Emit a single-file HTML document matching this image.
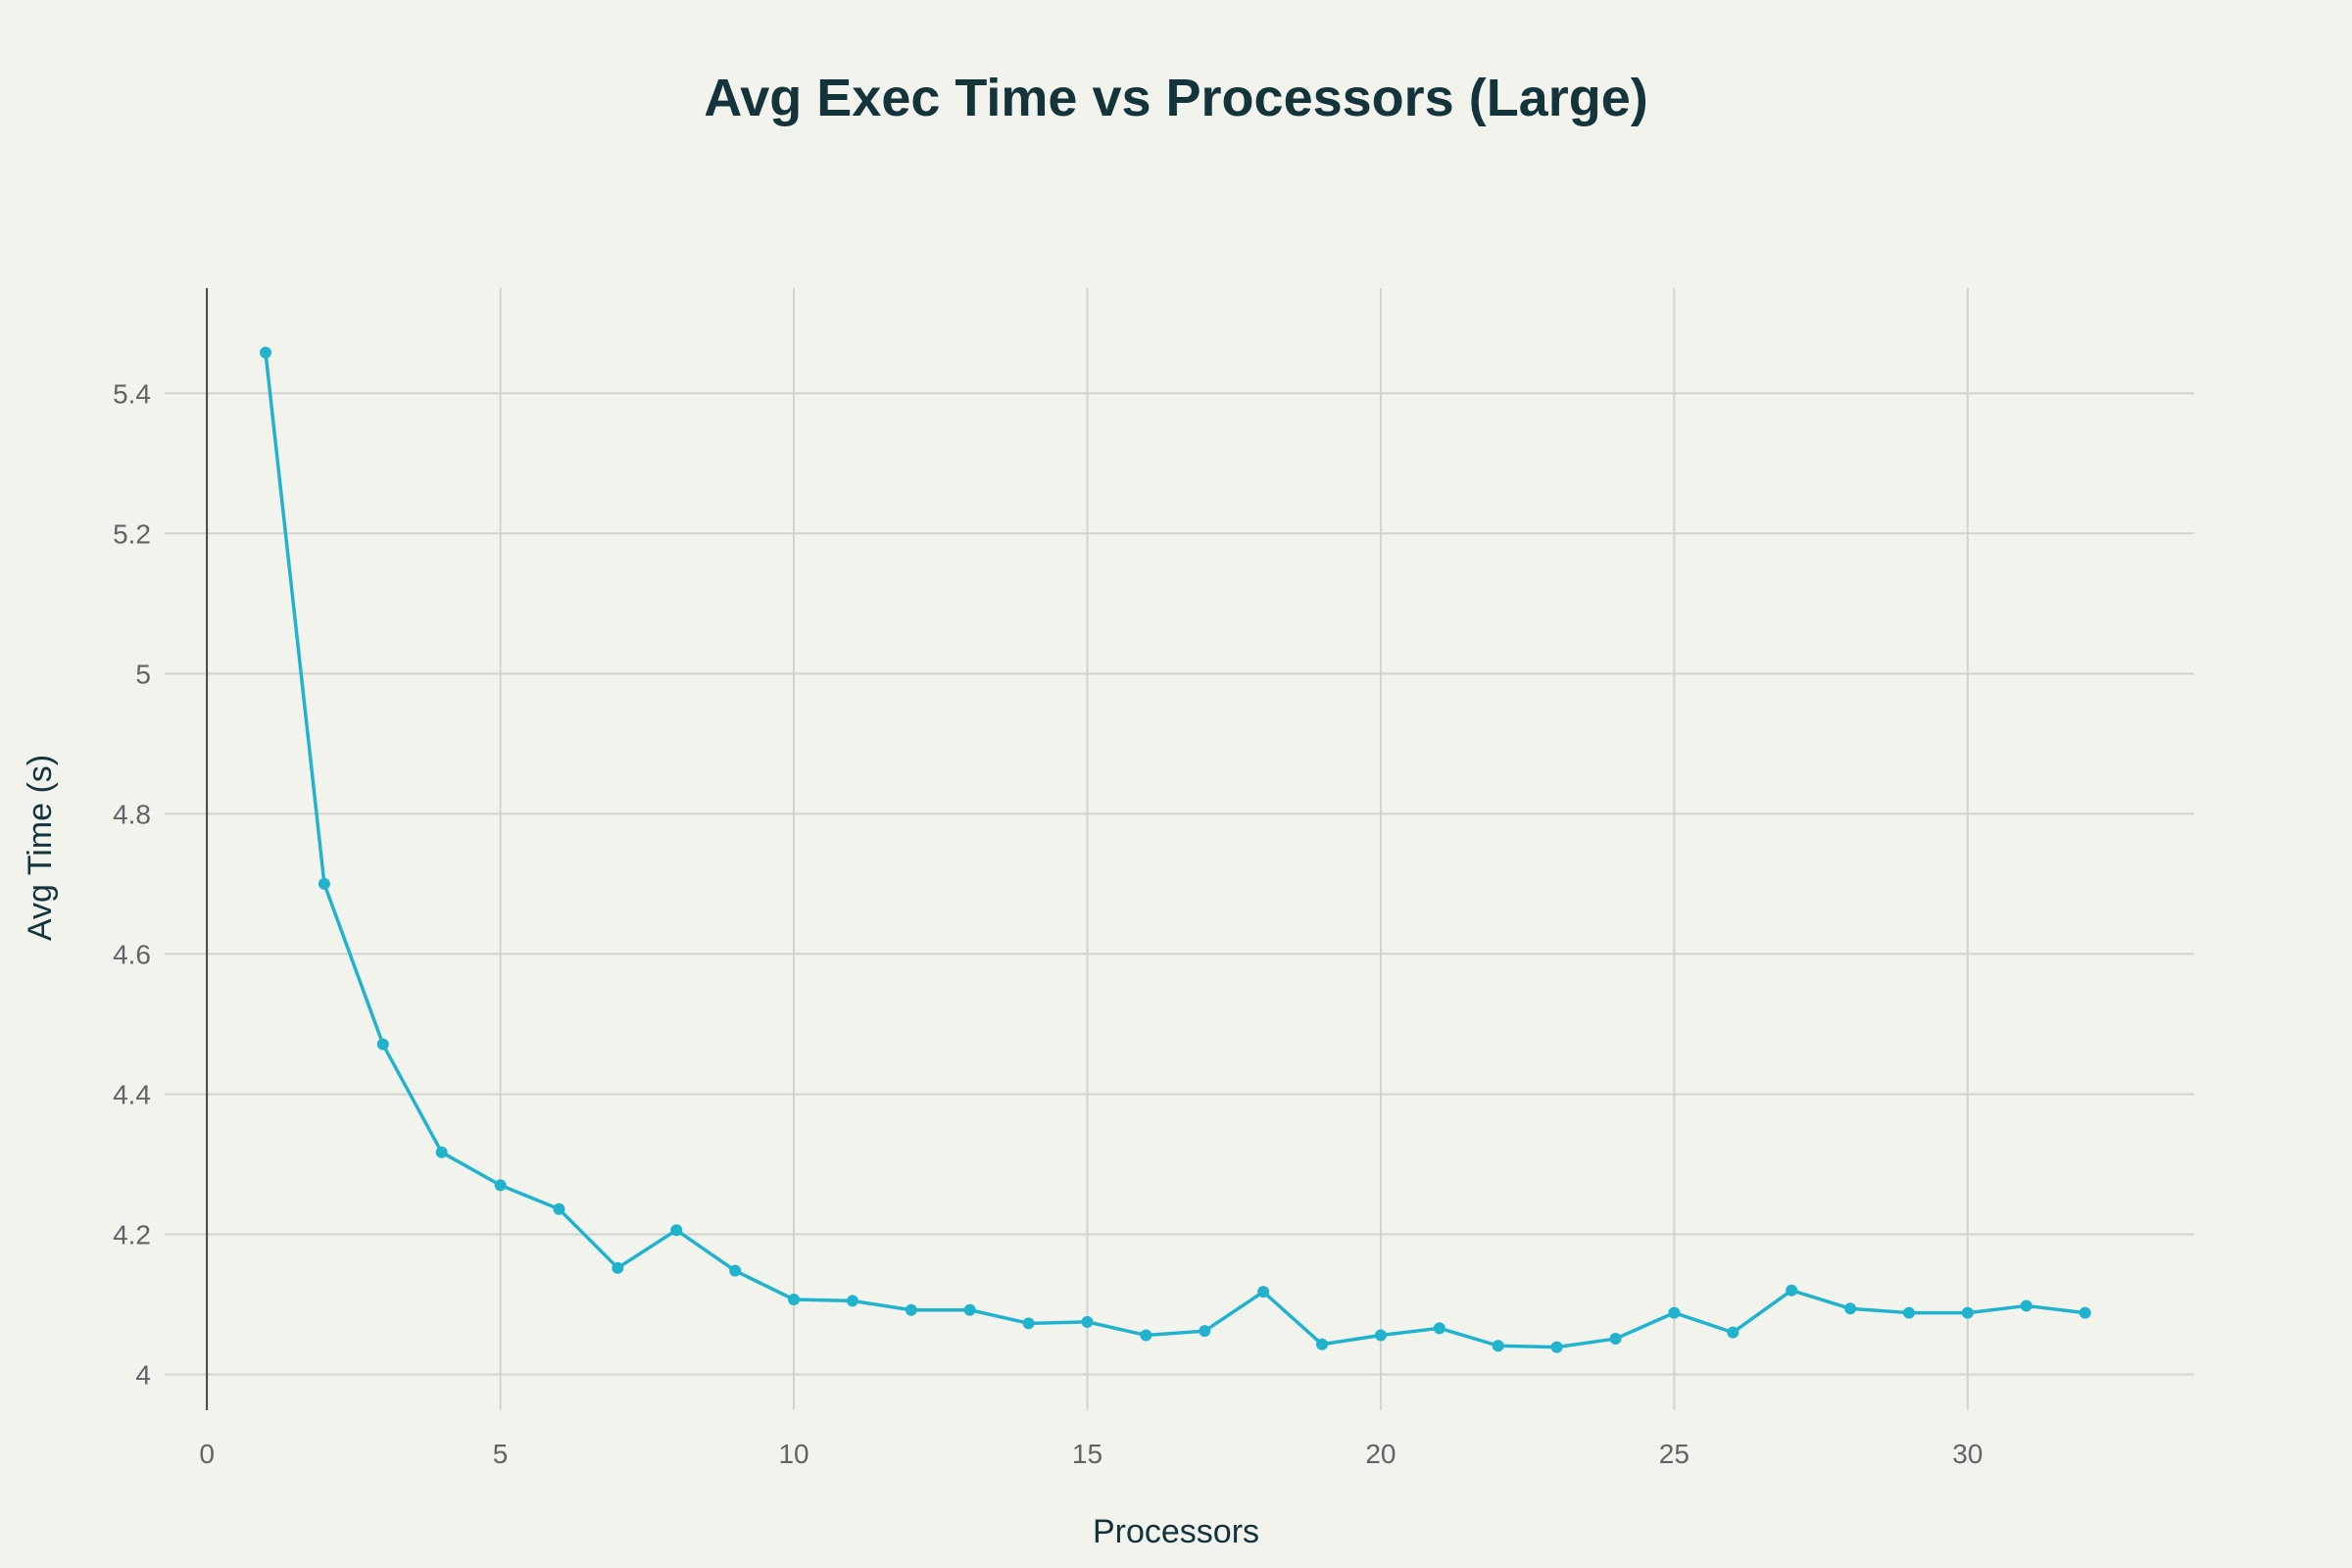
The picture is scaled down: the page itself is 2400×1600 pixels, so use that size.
<!DOCTYPE html>
<html><head><meta charset="utf-8"><style>
html,body{margin:0;padding:0;background:#f3f3ee;}
svg{display:block;font-family:"Liberation Sans",sans-serif;}
</style></head><body>
<svg id="chart" width="2400" height="1600" viewBox="0 0 2400 1600">
<rect width="2400" height="1600" fill="#f3f3ee"/>
<text x="1200" y="118" text-anchor="middle" font-size="54" font-weight="bold" fill="#13343b">Avg Exec Time vs Processors (Large)</text>
<g id="grid"></g><g id="axes"></g><g id="series"></g>
<text x="1200" y="1574" text-anchor="middle" font-size="34" fill="#13343b">Processors</text>
<text transform="translate(52,865) rotate(-90)" text-anchor="middle" font-size="34" fill="#13343b">Avg Time (s)</text>
</svg>
<script>
const processors=[1,2,3,4,5,6,7,8,9,10,11,12,13,14,15,16,17,18,19,20,21,22,23,24,25,26,27,28,29,30,31,32];
const avgTimes=[5.458,4.700,4.471,4.317,4.270,4.236,4.152,4.206,4.148,4.107,4.105,4.092,4.092,4.073,4.075,4.056,4.062,4.118,4.043,4.056,4.066,4.041,4.039,4.051,4.088,4.060,4.120,4.094,4.088,4.088,4.098,4.088];
const xTicks=[0,5,10,15,20,25,30];
const yTicks=[4,4.2,4.4,4.6,4.8,5,5.2,5.4];
const yTickLabels=["4","4.2","4.4","4.6","4.8","5","5.2","5.4"];
const L=168,R=2239,T=294,B=1439,xMin=-0.72,xMax=33.86,yMin=3.949,yMax=5.55;
const sx=v=>L+(v-xMin)/(xMax-xMin)*(R-L);
const sy=v=>B-(v-yMin)/(yMax-yMin)*(B-T);
const NS="http://www.w3.org/2000/svg";
function mk(tag,attrs,parent){const e=document.createElementNS(NS,tag);for(const k in attrs)e.setAttribute(k,attrs[k]);document.getElementById(parent).appendChild(e);return e;}
xTicks.forEach(t=>{
 if(t!==0){const g=mk('line',{x1:sx(t),x2:sx(t),y1:T,y2:B,stroke:'#d2d3cf','stroke-width':2},'grid');
 
 }
 const l=mk('text',{x:sx(t),y:1493,'text-anchor':'middle','font-size':28,fill:'#5f6466'},'axes');l.textContent=t;
 
 
});
yTicks.forEach((t,i)=>{
 const g=mk('line',{x1:L,x2:R,y1:sy(t),y2:sy(t),stroke:'#d2d3cf','stroke-width':2},'grid');
 
 
 const l=mk('text',{x:L-14,y:sy(t)+10,'text-anchor':'end','font-size':28,fill:'#5f6466'},'axes');l.textContent=yTickLabels[i];
 
 
});
const ax=mk('line',{x1:sx(0),x2:sx(0),y1:T,y2:B,stroke:'#444','stroke-width':2},'axes');


const pl=mk('polyline',{points:processors.map((p,i)=>sx(p)+','+sy(avgTimes[i])).join(' '),fill:'none',stroke:'#21b3cd','stroke-width':3.5,'stroke-linejoin':'round'},'series');


processors.forEach((p,i)=>{
 const c=mk('circle',{cx:sx(p),cy:sy(avgTimes[i]),r:6,fill:'#21b3cd'},'series');
 
 
});
</script>
</body></html>
